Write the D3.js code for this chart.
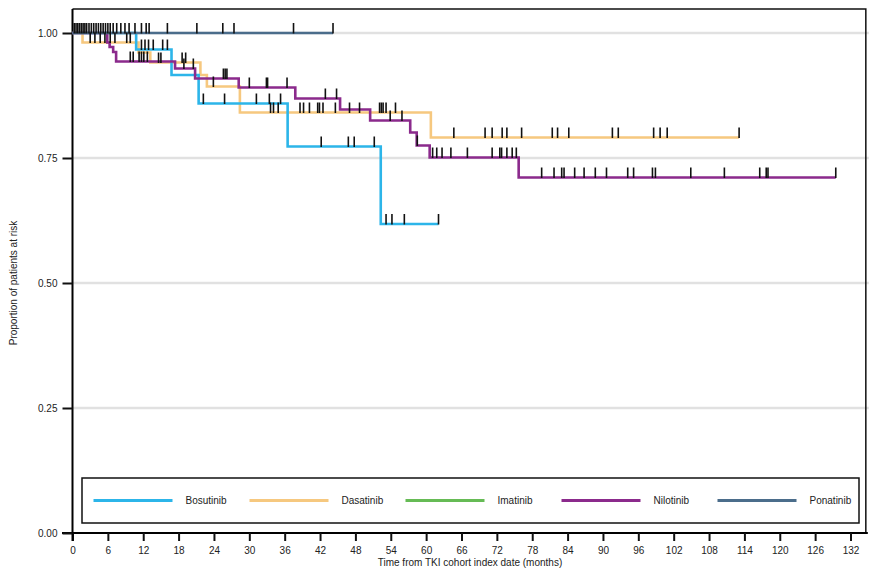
<!DOCTYPE html>
<html>
<head>
<meta charset="utf-8">
<script src="https://cdn.jsdelivr.net/npm/d3@7"></script>
<style>
  body { margin: 0; background: #fff; }
  text { font-family: "Liberation Sans", Arial, sans-serif; }
</style>
</head>
<body>
<div id="chart"></div>
<script>
// series names + colours
var seriesNames = ["Bosutinib", "Dasatinib", "Imatinib", "Nilotinib", "Ponatinib"];
var seriesColors = ["#2cb5e9", "#f6c87f", "#66bb55", "#8b2a8c", "#4b6d8b"];

// step times (months) and survival after each step
var bosTimes = [0, 10.8, 16.8, 21.4, 36.5, 52.3];
var bosSurv = [1, 0.967, 0.916, 0.859, 0.773, 0.618];
var bosEnd = 62.1;
var bosCensor = [11.7, 12.3, 12.9, 13.7, 15.3, 16.1, 22.2, 25.8, 31.2, 33.4, 35.3, 42.2, 46.8, 47.8, 51.2, 53.2, 54.2, 56.3, 62.1];

var dasTimes = [0, 1.7, 11.2, 13.2, 21.7, 22.8, 28.4, 60.8];
var dasSurv = [1, 0.981, 0.961, 0.941, 0.916, 0.893, 0.841, 0.791];
var dasEnd = 113.1;
var dasCensor = [3.0, 3.8, 4.7, 5.5, 6.4, 7.2, 9.2, 9.8, 14.6, 15.0, 18.6, 19.2, 23.9, 33.6, 34.1, 34.9, 38.6, 39.2, 40.2, 41.6, 41.9, 42.5, 44.6, 47.0, 48.7, 52.1, 52.4, 52.7, 53.2, 54.8, 64.7, 70.0, 71.2, 72.9, 73.7, 76.2, 81.4, 82.3, 84.2, 91.6, 92.6, 98.6, 99.7, 100.9, 113.1];

var imaTimes = [];
var imaSurv = [];
var imaEnd = null;
var imaCensor = [];

var nilTimes = [0, 5.9, 6.3, 6.9, 7.4, 17.4, 20.8, 28.2, 37.8, 45.4, 50.5, 57.3, 58.4, 60.6, 75.7];
var nilSurv = [1, 0.981, 0.972, 0.962, 0.943, 0.929, 0.909, 0.891, 0.869, 0.847, 0.825, 0.801, 0.775, 0.751, 0.711];
var nilEnd = 129.5;
var nilCensor = [9.8, 10.3, 11.3, 11.7, 12.1, 12.7, 18.9, 20.5, 25.6, 25.9, 26.2, 30.0, 32.9, 33.1, 36.4, 42.9, 44.8, 53.9, 55.9, 58.5, 61.1, 61.8, 62.7, 64.2, 67.0, 71.2, 72.5, 72.8, 73.7, 74.6, 75.3, 79.6, 81.7, 83.0, 83.4, 85.2, 86.8, 88.7, 90.6, 94.2, 95.2, 98.4, 98.9, 104.9, 110.6, 116.6, 117.7, 118.0, 129.5];

var ponTimes = [0];
var ponSurv = [1];
var ponEnd = 44.2;
var ponCensor = [0.3, 0.6, 0.9, 1.2, 1.5, 1.8, 2.1, 2.4, 2.8, 3.2, 3.6, 4.0, 4.4, 4.8, 5.2, 5.6, 6.0, 6.4, 6.9, 7.5, 8.2, 8.9, 9.6, 10.6, 11.7, 12.5, 13.0, 16.1, 21.1, 25.5, 27.4, 37.5, 44.2];

var xTicks = d3.range(0, 133, 6);
var yTicks = [0, 0.25, 0.5, 0.75, 1];

var width = 870, height = 571;
var svg = d3.select("#chart").append("svg").attr("width", width).attr("height", height);

var x = d3.scaleLinear().domain([0, 132]).range([72.5, 850.5]);
var y = d3.scaleLinear().domain([0, 1]).range([533, 33]);
var rightEdge = x(134.6), topEdge = y(1.048);

// grid
svg.append("g").selectAll("line").data(yTicks.filter(function (d) { return d > 0; }))
    .enter().append("line")
    .attr("x1", x(0)).attr("x2", rightEdge + 3)
    .attr("y1", function (d) { return y(d); }).attr("y2", function (d) { return y(d); })
    .attr("stroke", "#e1e1e1").attr("stroke-width", 2.5);

// frame (top + right)
svg.append("path")
    .attr("d", "M" + x(0) + "," + topEdge + "H" + rightEdge + "V" + y(0))
    .attr("fill", "none").attr("stroke", "#111").attr("stroke-width", 1.5);

// axes
var xAxis = svg.append("g").attr("transform", "translate(0," + y(0) + ")")
    .call(d3.axisBottom(x).tickValues(xTicks).tickSize(8).tickPadding(6).tickFormat(d3.format("d")));
xAxis.select(".domain").attr("d", "M62,0H" + (rightEdge + 2)).attr("stroke-width", 2);
var yAxis = svg.append("g").attr("transform", "translate(" + x(0) + ",0)")
    .call(d3.axisLeft(y).tickValues(yTicks).tickSize(10).tickPadding(5).tickFormat(d3.format(".2f")));
yAxis.select(".domain").attr("d", "M0," + topEdge + "V" + (y(0) + 8)).attr("stroke-width", 2);
svg.selectAll(".tick line").attr("stroke-width", 2).attr("stroke", "#111");
svg.selectAll(".tick text").attr("font-size", 10).attr("fill", "#222")
    .style("font-family", "'Liberation Sans', Arial, sans-serif");

svg.append("text").attr("x", 470).attr("y", 566).attr("text-anchor", "middle")
    .attr("font-size", 10).attr("fill", "#222").text("Time from TKI cohort index date (months)");
svg.append("text").attr("transform", "translate(17," + y(0.5) + ") rotate(-90)")
    .attr("text-anchor", "middle").attr("font-size", 10).attr("fill", "#222")
    .text("Proportion of patients at risk");

// curves
var allTimes = [bosTimes, dasTimes, imaTimes, nilTimes, ponTimes];
var allSurv = [bosSurv, dasSurv, imaSurv, nilSurv, ponSurv];
var allEnd = [bosEnd, dasEnd, imaEnd, nilEnd, ponEnd];
var allCensor = [bosCensor, dasCensor, imaCensor, nilCensor, ponCensor];
var drawOrder = [1, 0, 2, 3, 4];

var line = d3.line().x(function (d) { return x(d[0]); }).y(function (d) { return y(d[1]); })
    .curve(d3.curveStepAfter);

function survAt(i, t) {
    var k = d3.bisectRight(allTimes[i], t) - 1;
    return allSurv[i][Math.max(k, 0)];
}

drawOrder.forEach(function (i) {
    if (!allTimes[i].length) return;
    var pts = allTimes[i].map(function (t, k) { return [t, allSurv[i][k]]; });
    pts.push([allEnd[i], allSurv[i][allSurv[i].length - 1]]);
    svg.append("path").datum(pts).attr("d", line)
        .attr("fill", "none").attr("stroke", seriesColors[i]).attr("stroke-width", 2.6);
});

// censor marks
drawOrder.forEach(function (i) {
    svg.append("g").selectAll("line").data(allCensor[i]).enter().append("line")
        .attr("x1", function (d) { return x(d); }).attr("x2", function (d) { return x(d); })
        .attr("y1", function (d) { return y(survAt(i, d)) - 10; })
        .attr("y2", function (d) { return y(survAt(i, d)) + 0.5; })
        .attr("stroke", "#111").attr("stroke-width", 1.6);
});

// legend
var lg = svg.append("g");
lg.append("rect").attr("x", 82).attr("y", 478).attr("width", 777).attr("height", 45)
    .attr("fill", "#fff").attr("stroke", "#111").attr("stroke-width", 1.5);
seriesNames.forEach(function (name, i) {
    var lx = 93.5 + i * 156;
    lg.append("line").attr("x1", lx).attr("x2", lx + 79).attr("y1", 500.5).attr("y2", 500.5)
        .attr("stroke", seriesColors[i]).attr("stroke-width", 3);
    lg.append("text").attr("x", lx + 92).attr("y", 504).attr("font-size", 10).attr("fill", "#222").text(name);
});
</script>
</body>
</html>
